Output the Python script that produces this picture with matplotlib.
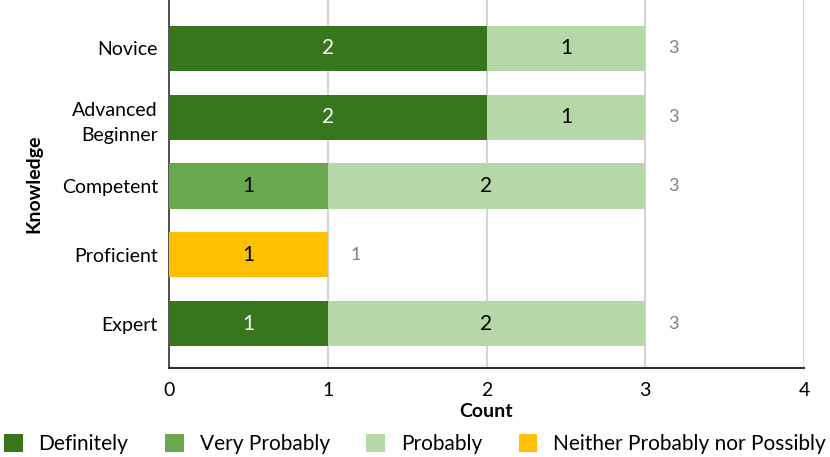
import matplotlib
matplotlib.use("Agg")
import matplotlib.pyplot as plt
import numpy as np

categories = ["Novice", "Advanced\nBeginner", "Competent", "Proficient", "Expert"]
series_names = ["Definitely", "Very Probably", "Probably", "Neither Probably nor Possibly"]
definitely = [2, 2, 0, 0, 1]
very_probably = [0, 0, 1, 0, 0]
probably = [1, 1, 2, 0, 2]
neither = [0, 0, 0, 1, 0]
series_values = [definitely, very_probably, probably, neither]
colors = ["#38761d", "#6aa84f", "#b6d7a8", "#ffc000"]
label_colors = ["white", "black", "black", "black"]
x_ticks = [0, 1, 2, 3, 4]

plt.rcParams['font.family'] = ['Lato', 'DejaVu Sans']

fig = plt.figure(figsize=(8.3, 4.57), dpi=100)
ax = fig.add_axes([169/830, 1 - 368/457, (804 - 169)/830, 368/457])

y = np.arange(len(categories))
left = np.zeros(len(categories))
handles = []
for vals, col, lc, name in zip(series_values, colors, label_colors, series_names):
    vals = np.array(vals, dtype=float)
    h = ax.barh(y, vals, left=left, height=0.655, color=col, label=name, zorder=3)
    handles.append(h)
    for yi, v, l in zip(y, vals, left):
        if v > 0:
            ax.text(l + v / 2, yi, f"{int(v)}", ha="center", va="center",
                    color=lc, fontsize=15, zorder=4)
    left += vals

for yi, tot in zip(y, left):
    ax.text(tot + 0.175, yi, f"{int(tot)}", ha="center", va="center",
            color="#808080", fontsize=13, zorder=4)

ax.set_xlim(0, 4)
ax.set_ylim(4.647, -0.705)
ax.set_xticks(x_ticks)
ax.set_xticklabels([str(t) for t in x_ticks], fontsize=14)
ax.set_yticks(y)
ax.set_yticklabels(categories, fontsize=14, linespacing=1.6)
ax.tick_params(axis="y", length=0, pad=8)
ax.tick_params(axis="x", length=0, pad=10)
ax.grid(axis="x", color="#cccccc", linewidth=1.2, zorder=0)
for s in ["top", "right"]:
    ax.spines[s].set_visible(False)
ax.spines["left"].set_color("#333333")
ax.spines["bottom"].set_color("#333333")
ax.spines["left"].set_linewidth(1.2)
ax.spines["bottom"].set_linewidth(1.5)
ax.set_xlabel("Count", fontsize=14, fontweight="bold", labelpad=3)
ax.set_ylabel("Knowledge", fontsize=14, fontweight="bold", labelpad=14)

fig.legend(handles=handles, labels=series_names, loc="lower left",
           bbox_to_anchor=(-0.005, -0.012, 1.01, 0.1), mode="expand", ncol=4,
           frameon=False, fontsize=15, borderaxespad=0.0,
           handlelength=0.9, handleheight=1.0, handletextpad=0.75, columnspacing=1.5)

fig.savefig("out.png", dpi=100)
